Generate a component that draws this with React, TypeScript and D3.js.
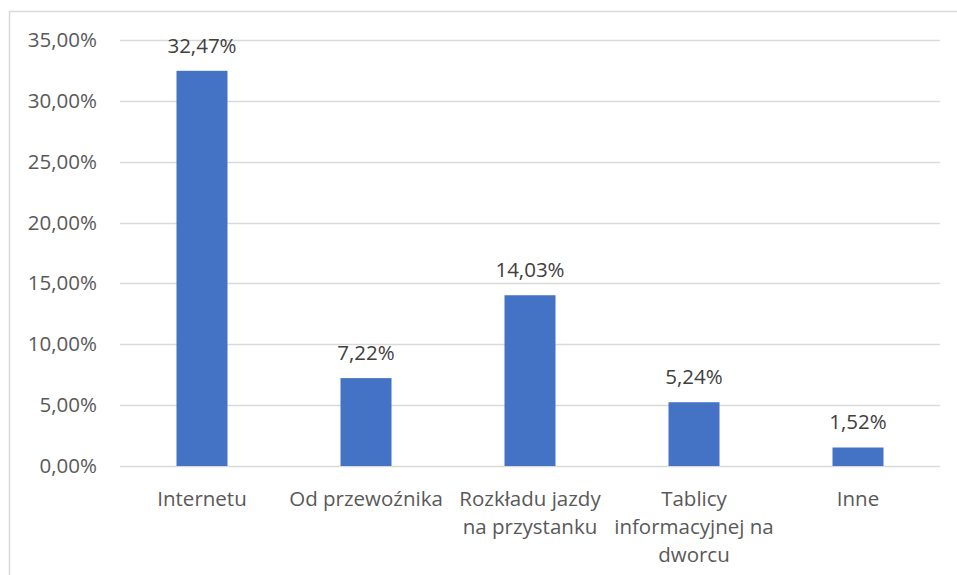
import React from "react";
import * as d3 from "d3";

const categories: string[][] = [
  ["Internetu"],
  ["Od przewoźnika"],
  ["Rozkładu jazdy", "na przystanku"],
  ["Tablicy", "informacyjnej na", "dworcu"],
  ["Inne"],
];
const values: number[] = [32.47, 7.22, 14.03, 5.24, 1.52];
const yTicks: number[] = [0, 5, 10, 15, 20, 25, 30, 35];

const W = 957;
const H = 575;
const FONT = "'Open Sans', sans-serif";
const FS = 20.5;
const fmt = (v: number) => v.toFixed(2).replace(".", ",") + "%";

export default function App() {
  const x = d3
    .scaleBand<number>()
    .domain(values.map((_, i) => i))
    .range([120, 940])
    .paddingInner(0.689)
    .paddingOuter(0.3445);
  const y = d3.scaleLinear().domain([0, 35]).range([466, 40]);

  return (
    <svg
      width={W}
      height={H}
      style={{ position: "absolute", left: 0, top: 0, background: "#fff" }}
      fontFamily={FONT}
    >
      <rect x={9.5} y={11.5} width={1000} height={1000} fill="#fff" stroke="#d9d9d9" strokeWidth={1.5} />
      {yTicks.map((t) => (
        <g key={t}>
          <line x1={120} x2={940} y1={Math.round(y(t)) + 0.5} y2={Math.round(y(t)) + 0.5} stroke="#d9d9d9" strokeWidth={1.3} />
          <text x={97} y={y(t) + 7} textAnchor="end" fontSize={FS} fill="#595959">
            {fmt(t)}
          </text>
        </g>
      ))}
      {values.map((v, i) => {
        const bx = x(i)!;
        const bw = x.bandwidth();
        const cx = bx + bw / 2;
        return (
          <g key={i}>
            <rect x={bx} y={y(v)} width={bw} height={y(0) - y(v)} fill="#4472C4" />
            <text x={cx} y={y(v) - 18} textAnchor="middle" fontSize={FS} fill="#404040">
              {fmt(v)}
            </text>
            {categories[i].map((line, j) => (
              <text key={j} x={cx} y={506 + j * 28} textAnchor="middle" fontSize={FS} fill="#595959">
                {line}
              </text>
            ))}
          </g>
        );
      })}
    </svg>
  );
}
